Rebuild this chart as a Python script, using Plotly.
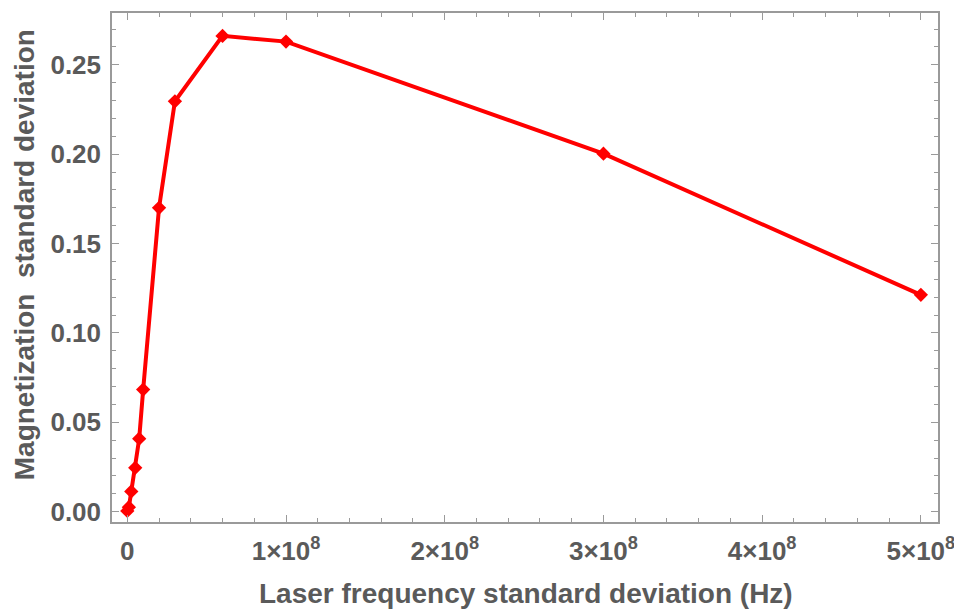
import plotly.graph_objects as go

freq_hz = [0, 1e6, 2.5e6, 5e6, 7.5e6, 1e7, 2e7, 3e7, 6e7, 1e8, 3e8, 5e8]
mag_std = [0.0004, 0.0025, 0.0113, 0.0245, 0.0408, 0.0683, 0.170, 0.2296, 0.2662, 0.2630, 0.2003, 0.1213]

x_tick_vals = [0, 1e8, 2e8, 3e8, 4e8, 5e8]
x_tick_text = ["0", "1×10<sup>8</sup>", "2×10<sup>8</sup>", "3×10<sup>8</sup>",
               "4×10<sup>8</sup>", "5×10<sup>8</sup>"]
y_tick_vals = [0.0, 0.05, 0.10, 0.15, 0.20, 0.25]
y_tick_text = ["0.00", "0.05", "0.10", "0.15", "0.20", "0.25"]

x_title = "Laser frequency standard deviation (Hz)"
y_title = "Magnetization  standard deviation"

fig = go.Figure()
fig.add_trace(go.Scatter(
    x=freq_hz, y=mag_std, mode="lines+markers",
    line=dict(color="#ff0000", width=4),
    marker=dict(symbol="diamond", size=11, color="#ff0000"),
    showlegend=False,
))

fam = "Liberation Sans, Arial, sans-serif"
axis_font = dict(family=fam, size=26, color="#5a5a5a")
title_font = dict(family=fam, size=28, color="#5a5a5a")
frame = "#9a9a9a"

fig.update_xaxes(
    range=[-9.64e6, 5.108e8],
    tickvals=x_tick_vals, ticktext=[f"<b>{t}</b>" for t in x_tick_text],
    ticks="inside", ticklen=7, tickwidth=1, tickcolor=frame,
    minor=dict(dtick=2e7, tick0=0, ticks="inside", ticklen=4, tickcolor=frame, showgrid=False),
    showline=True, linecolor=frame, linewidth=1.5, mirror="ticks",
    showgrid=False, zeroline=False, automargin=False,
    tickfont=axis_font, ticklabelstandoff=5,
)
fig.update_yaxes(
    range=[-0.0058, 0.279],
    tickvals=y_tick_vals, ticktext=[f"<b>{t}</b>" for t in y_tick_text],
    ticks="inside", ticklen=7, tickwidth=1, tickcolor=frame,
    minor=dict(dtick=0.01, tick0=0, ticks="inside", ticklen=4, tickcolor=frame, showgrid=False),
    showline=True, linecolor=frame, linewidth=1.5, mirror="ticks",
    showgrid=False, zeroline=False, automargin=False,
    tickfont=axis_font, ticklabelstandoff=4,
)

fig.add_annotation(
    text=f"<b>{x_title}</b>", xref="paper", yref="paper",
    x=0.501, y=-0.1395, xanchor="center", yanchor="middle",
    showarrow=False, font=title_font,
)
fig.add_annotation(
    text=f"<b>{y_title}</b>", xref="paper", yref="paper",
    x=-0.105, y=0.5246, xanchor="center", yanchor="middle", textangle=-90,
    showarrow=False, font=title_font,
)

fig.update_layout(
    width=954, height=602,
    margin=dict(l=104, r=24, t=5, b=88),
    plot_bgcolor="white", paper_bgcolor="white",
)

fig.write_html("out.html")
